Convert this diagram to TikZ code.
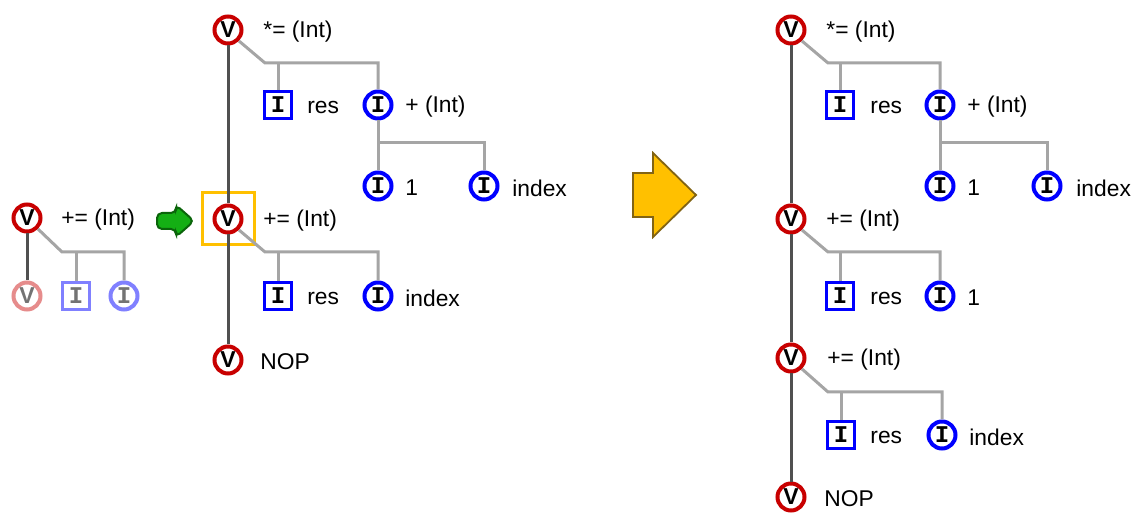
\documentclass[tikz,border=0pt]{standalone}
\usepackage{fontspec}
\setmainfont{Liberation Sans}
\newfontfamily\monofont{Liberation Mono}
\usetikzlibrary{positioning}
\definecolor{vred}{RGB}{200,0,0}
\definecolor{iblue}{RGB}{0,0,255}
\definecolor{edgegray}{RGB}{165,165,165}
\definecolor{spinegray}{RGB}{80,80,80}
\definecolor{boxorange}{RGB}{255,192,0}
\definecolor{greenfill}{RGB}{20,175,20}
\definecolor{greenline}{RGB}{10,100,10}
\definecolor{yellowfill}{RGB}{255,192,0}
\definecolor{yellowline}{RGB}{130,100,20}

\begin{document}
\begin{tikzpicture}[x=0.5pt, y=-0.5pt,
    vnode/.style={circle, draw=vred, fill=white, line width=2pt, minimum size=13.5pt, inner sep=0pt, font=\bfseries\fontsize{11.5}{11.5}\selectfont},
    icirc/.style={circle, draw=iblue, fill=white, line width=2pt, minimum size=13.5pt, inner sep=0pt, font=\monofont\bfseries\fontsize{12}{12}\selectfont},
    isq/.style={rectangle, draw=iblue, fill=white, line width=1.75pt, minimum size=13.5pt, inner sep=0pt, font=\monofont\bfseries\fontsize{12}{12}\selectfont},
    lbl/.style={anchor=west, inner sep=0pt, font=\fontsize{11.4}{13}\selectfont},
    gline/.style={draw=edgegray, line width=1.5pt},
    sline/.style={draw=spinegray, line width=1.5pt}]
    \useasboundingbox (0,0) rectangle (1136,513);

    % Left tree (before)
    \node[vnode] (l1) at (27,218) {V};
    \node[vnode, draw=vred!45, text=black!55] (l2) at (27,296) {V};
    \node[isq, draw=iblue!50, text=black!55] (l3) at (76,296) {I};
    \node[icirc, draw=iblue!50, text=black!55] (l4) at (124,296) {I};
    \coordinate (lb1) at (62,252);
    \node[lbl] at (61,220) {+= (Int)};
    \draw[sline] (l1) -- (l2);
    \draw[gline] (l1.south east) -- (lb1) -| (l4);
    \draw[gline] (lb1 -| l3) -- (l3);

    % Green insert arrow
    \draw[fill=greenfill, draw=greenline, line width=1pt, rounded corners=2.5pt]
        (157,213) -- (176,213) -- (176,205) -- (194,221) -- (176,237) -- (176,229) -- (157,229) -- cycle;

    % Middle tree
    \node[vnode] (m1) at (228,30) {V};
    \node[isq] (m2) at (278,105) {I};
    \node[icirc] (m3) at (378,105) {I};
    \node[icirc] (m4) at (378,186) {I};
    \node[icirc] (m5) at (484,186) {I};
    \node[vnode] (m6) at (228,219) {V};
    \node[isq] (m7) at (278,296) {I};
    \node[icirc] (m8) at (378,296) {I};
    \node[vnode] (m9) at (228,360) {V};
    \node[draw=boxorange, line width=1.5pt, minimum size=26pt, inner sep=0pt] (mbox) at (228,219) {};
    \coordinate (mb1) at (265,63);
    \coordinate (mb2) at (378,143);
    \coordinate (mb3) at (265,252);
    \node[lbl] at (263,32) {*= (Int)};
    \node[lbl] at (307,107) {res};
    \node[lbl] at (405,107) {+ (Int)};
    \node[lbl] at (405,188) {1};
    \node[lbl] at (512,188) {index};
    \node[lbl] at (263,221) {+= (Int)};
    \node[lbl] at (307,298) {res};
    \node[lbl] at (405,298) {index};
    \node[lbl] at (260,362) {NOP};
    \draw[sline] (m1) -- (m6);
    \draw[sline] (m6) -- (m9);
    \draw[gline] (m1.south east) -- (mb1) -| (m3);
    \draw[gline] (mb1 -| m2) -- (m2);
    \draw[gline] (m3) -- (m4);
    \draw[gline] (mb2) -| (m5);
    \draw[gline] (m6.south east) -- (mb3) -| (m8);
    \draw[gline] (mb3 -| m7) -- (m7);

    % Big result arrow
    \draw[fill=yellowfill, draw=yellowline, line width=0.9pt]
        (633,173) -- (653,173) -- (653,153) -- (696,195) -- (653,237) -- (653,217) -- (633,217) -- cycle;

    % Right tree (after)
    \node[vnode] (r1) at (791,30) {V};
    \node[isq] (r2) at (840,105) {I};
    \node[icirc] (r3) at (940,105) {I};
    \node[icirc] (r4) at (940,186) {I};
    \node[icirc] (r5) at (1047,186) {I};
    \node[vnode] (r6) at (791,219) {V};
    \node[isq] (r7) at (840,296) {I};
    \node[icirc] (r8) at (940,296) {I};
    \node[vnode] (r9) at (791,358) {V};
    \node[isq] (r10) at (841,435) {I};
    \node[icirc] (r11) at (942,435) {I};
    \node[vnode] (r12) at (791,497) {V};
    \coordinate (rb1) at (828,63);
    \coordinate (rb2) at (940,143);
    \coordinate (rb3) at (828,252);
    \coordinate (rb4) at (828,392);
    \node[lbl] at (826,32) {*= (Int)};
    \node[lbl] at (870,107) {res};
    \node[lbl] at (967,107) {+ (Int)};
    \node[lbl] at (967,188) {1};
    \node[lbl] at (1076,188) {index};
    \node[lbl] at (826,221) {+= (Int)};
    \node[lbl] at (870,298) {res};
    \node[lbl] at (967,298) {1};
    \node[lbl] at (827,360) {+= (Int)};
    \node[lbl] at (870,437) {res};
    \node[lbl] at (969,437) {index};
    \node[lbl] at (824,499) {NOP};
    \draw[sline] (r1) -- (r6);
    \draw[sline] (r6) -- (r9);
    \draw[sline] (r9) -- (r12);
    \draw[gline] (r1.south east) -- (rb1) -| (r3);
    \draw[gline] (rb1 -| r2) -- (r2);
    \draw[gline] (r3) -- (r4);
    \draw[gline] (rb2) -| (r5);
    \draw[gline] (r6.south east) -- (rb3) -| (r8);
    \draw[gline] (rb3 -| r7) -- (r7);
    \draw[gline] (r9.south east) -- (rb4) -| (r11);
    \draw[gline] (rb4 -| r10) -- (r10);
\end{tikzpicture}
\end{document}
